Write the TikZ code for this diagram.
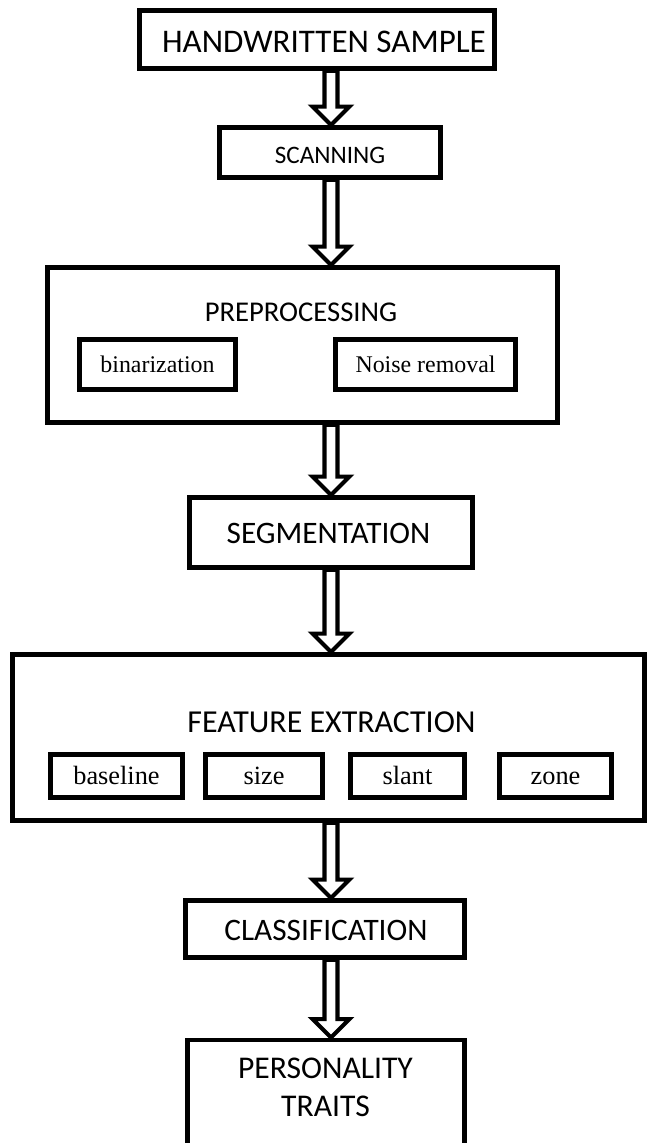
\documentclass[tikz,border=0pt]{standalone}
\usepackage{fontspec}
\setmainfont{Liberation Serif}
\newfontfamily\calibri{Carlito}
\usetikzlibrary{positioning, calc}

% hollow block arrow from one box down to the next
\newcommand{\blockarrow}[2]{%
  \draw[hollowarrow] let \p1=(#1.south), \p2=(#2.north), \p3=(spine) in
    (\x3-3.7pt,\y1) -- (\x3-3.7pt,\y2+10.5pt) -- (\x3-10.5pt,\y2+10.5pt)
    -- (\x3,\y2) -- (\x3+10.5pt,\y2+10.5pt) -- (\x3+3.7pt,\y2+10.5pt)
    -- (\x3+3.7pt,\y1) -- cycle;}

\begin{document}
\begin{tikzpicture}
    [x=0.02cm, y=-0.02cm,
     stage/.style={draw, line width=2.8pt, rectangle, inner sep=0pt},
     title/.style={font=\calibri\fontsize{#1}{21.6}\selectfont, align=center, inner sep=0pt},
     title/.default=18,
     sub/.style={draw, line width=2.8pt, rectangle, inner sep=0pt, minimum height=0.86cm,
                 font=\fontsize{15}{17}\selectfont, text height=10pt, text depth=0pt},
     hollowarrow/.style={draw, fill=white, line width=2.3pt}]
    \useasboundingbox (0,0) rectangle (647,1143);
    \coordinate (spine) at (331,0);

    \node[stage, minimum width=7.1cm, minimum height=1.16cm] (hand) at (317,39.5) {};
    \node[title=18.8] (handtitle) at (324,42) {HANDWRITTEN SAMPLE};

    \node[stage, minimum width=4.42cm, minimum height=1cm] (scan) at (330,152.5) {};
    \node[title=14.3] (scantitle) at (330,155) {SCANNING};

    \node[stage, minimum width=10.2cm, minimum height=3.1cm] (prep) at (302.5,345) {};
    \node[title=16.3] (preptitle) at (301,312) {PREPROCESSING};
    \node[sub, minimum width=3.12cm, minimum height=1cm, font=\fontsize{13.6}{16}\selectfont,
          text height=9pt] (bin) at (157.5,364.5) {binarization};
    \node[sub, minimum width=3.6cm, minimum height=1cm, font=\fontsize{13.6}{16}\selectfont,
          text height=9pt] (noise) at (425.5,364.5) {Noise removal};

    \node[stage, minimum width=5.66cm, minimum height=1.4cm] (seg) at (331,532.5) {};
    \node[title=17.8] (segtitle) at (328.5,533) {SEGMENTATION};

    \node[stage, minimum width=12.64cm, minimum height=3.32cm] (feat) at (328.5,737.5) {};
    \node[title=18.2] (feattitle) at (331.5,722) {FEATURE EXTRACTION};
    \node[sub, minimum width=2.64cm] (baseline) at (116.5,776) {baseline};
    \node[sub, minimum width=2.34cm] (size) at (264,776) {size};
    \node[sub, minimum width=2.28cm] (slant) at (407.5,776) {slant};
    \node[sub, minimum width=2.24cm] (zone) at (555.5,776) {zone};

    \node[stage, minimum width=5.58cm, minimum height=1.14cm] (class) at (325,929) {};
    \node[title=17.8] (classtitle) at (326,930) {CLASSIFICATION};

    \node[stage, anchor=north, minimum width=5.54cm, minimum height=2.3cm] (pers) at (326,1037.5) {};
    \node[title=18] (perstitle) at (325.5,1087.5) {PERSONALITY\\TRAITS};

    \blockarrow{hand}{scan}
    \blockarrow{scan}{prep}
    \blockarrow{prep}{seg}
    \blockarrow{seg}{feat}
    \blockarrow{feat}{class}
    \blockarrow{class}{pers}
\end{tikzpicture}
\end{document}
